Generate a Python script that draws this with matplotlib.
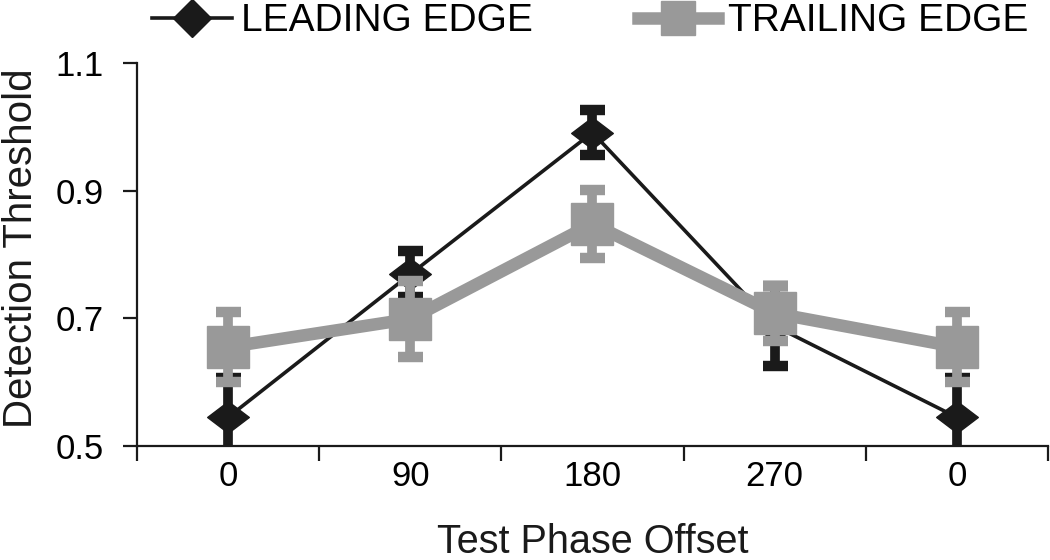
"""
Detection threshold vs test phase offset, leading vs trailing edge.
"""
import matplotlib
matplotlib.use("Agg")
import matplotlib.pyplot as plt
from matplotlib import font_manager
from matplotlib.lines import Line2D
from matplotlib.path import Path

# data
phase_labels = ["0", "90", "180", "270", "0"]
leading = [0.545, 0.769, 0.991, 0.688, 0.545]
leading_err = [0.062, 0.036, 0.035, 0.063, 0.062]
trailing = [0.655, 0.699, 0.848, 0.708, 0.655]
trailing_err = [0.055, 0.060, 0.053, 0.043, 0.055]

NEGRO = "#1a1a1a"
GRIS = "#999999"

names = {f.name for f in font_manager.fontManager.ttflist}
NARROW = "Liberation Sans Narrow" if "Liberation Sans Narrow" in names else "Liberation Sans"
plt.rcParams["font.family"] = ["Liberation Sans", "DejaVu Sans"]

# diamond a bit wider than tall
DIAMANTE = Path([(-1, 0), (0, 0.76), (1, 0), (0, -0.76), (-1, 0)],
                [Path.MOVETO, Path.LINETO, Path.LINETO, Path.LINETO, Path.CLOSEPOLY])

fig = plt.figure(figsize=(10.5, 5.6), dpi=100)
ax = fig.add_axes([0.1305, 0.2036, 0.8675, 0.684])

x = list(range(len(phase_labels)))
ax.errorbar(x, leading, yerr=leading_err, color=NEGRO, lw=2.6,
            marker=DIAMANTE, ms=30, mec=NEGRO, mfc=NEGRO,
            elinewidth=7, capsize=9, capthick=7.5, zorder=3)
ax.errorbar(x, trailing, yerr=trailing_err, color=GRIS, lw=9,
            marker="s", ms=30, mec=GRIS, mfc=GRIS,
            elinewidth=7, capsize=9, capthick=7.5, zorder=4)

ax.set_xlim(-0.5, len(phase_labels) - 0.5)
ax.set_ylim(0.5, 1.1)
ax.set_yticks([0.5, 0.7, 0.9, 1.1])
ax.set_yticklabels(["0.5", "0.7", "0.9", "1.1"], family=NARROW, fontsize=25)

# ticks on category boundaries, labels in the middle
ax.set_xticks([i - 0.5 for i in range(len(phase_labels) + 1)])
ax.set_xticklabels([])
ax.set_xticks(x, minor=True)
ax.set_xticklabels(phase_labels, minor=True, family=NARROW, fontsize=25)
ax.tick_params(axis="x", which="major", length=11, width=1.6, color=NEGRO)
ax.tick_params(axis="x", which="minor", length=0, pad=10)
ax.tick_params(axis="y", length=10, width=1.6, color=NEGRO, pad=14)

for s in ["top", "right"]:
    ax.spines[s].set_visible(False)
for s in ["left", "bottom"]:
    ax.spines[s].set_linewidth(1.6)
    ax.spines[s].set_color(NEGRO)

ax.set_ylabel("Detection Threshold", fontsize=29, color=NEGRO)
ax.yaxis.set_label_coords(-0.106, 0.517)
ax.set_xlabel("Test Phase Offset", fontsize=28.5, color=NEGRO, va="top")
ax.xaxis.set_label_coords(0.5, -0.2)

h1 = Line2D([], [], color=NEGRO, lw=2.6, marker="D", ms=19, mfc=NEGRO, mec=NEGRO)
h2 = Line2D([], [], color=GRIS, lw=9, marker="s", ms=24, mfc=GRIS, mec=GRIS)
fig.legend([h1, h2], ["LEADING EDGE", "TRAILING EDGE"], loc="center",
           bbox_to_anchor=(0.562, 0.962), ncol=2, frameon=False,
           prop={"family": NARROW, "size": 28}, handlelength=2.05,
           handletextpad=0.25, columnspacing=2.7, borderpad=0)

fig.savefig("out.png", dpi=100)
plt.close(fig)
